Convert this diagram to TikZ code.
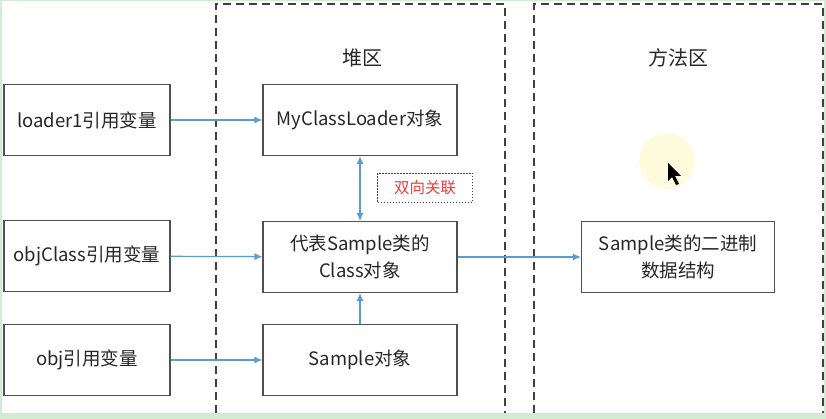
\documentclass[tikz,border=0pt]{standalone}
\usepackage{fontspec}
\setmainfont{Noto Sans CJK SC}
\usetikzlibrary{arrows.meta}

\definecolor{framegreen}{RGB}{211,235,211}
\definecolor{zonegray}{RGB}{64,64,64}
\definecolor{boxgray}{RGB}{80,80,80}
\definecolor{linkblue}{RGB}{91,155,213}
\definecolor{notered}{RGB}{240,60,60}
\definecolor{spotyellow}{RGB}{255,252,222}

\tikzset{
  zone/.style={draw=zonegray, line width=2pt, dash pattern=on 8pt off 5pt},
  membox/.style={draw=boxgray, line width=1.1pt, minimum height=71pt,
    align=center, font=\fontsize{18.5}{27}\selectfont, text=black!85},
  refbox/.style={membox, minimum width=166pt},
  objbox/.style={membox, minimum width=194pt},
  zonelabel/.style={font=\fontsize{20}{23}\selectfont, text=black!85},
  link/.style={draw=linkblue, line width=1.2pt, -{Latex[length=8pt,width=7pt]}},
}

\begin{document}
\begin{tikzpicture}[x=1pt,y=-1pt]

        \useasboundingbox (0,0) rectangle (826,419) ;
        \fill [framegreen] (0,0) rectangle (826,419) ;
        \fill [white] (2,1) rectangle (824,413) ;

        \draw [zone] (216,413) -- (216,4) -- (505,4) -- (505,413) ;
        \draw [zone] (534,413) -- (534,4) -- (823,4) -- (823,413) ;

        \node [zonelabel] (heap) at (362,58) {堆区} ;
        \node [zonelabel] (method) at (678,58) {方法区} ;

        \node [refbox] (loaderref) at (87,120) {loader1引用变量} ;
        \node [refbox] (classref) at (87,256) {objClass引用变量} ;
        \node [refbox] (objref) at (87,360) {obj引用变量} ;

        \node [objbox] (loaderobj) at (360,120) {MyClassLoader对象} ;
        \node [objbox] (classobj) at (360,257) {代表Sample类的\\Class对象} ;
        \node [objbox] (sampleobj) at (360,360) {Sample对象} ;
        \node [objbox, minimum width=193pt] (classdata) at (678,257) {Sample类的二进制\\数据结构} ;

        \node [draw=zonegray, dash pattern=on 1.5pt off 1.5pt, line width=1.5pt, minimum width=95pt, minimum height=29pt,
               text=notered, font=\fontsize{15.5}{17}\selectfont] (both) at (425,188) {双向关联} ;

        \draw [link] (loaderref) -- (loaderobj) ;
        \draw [link] (classref) -- (classobj) ;
        \draw [link] (objref) -- (sampleobj) ;
        \draw [link] (classobj) -- (classdata) ;
        \draw [link] (sampleobj) -- (classobj) ;
        \draw [link, {Latex[length=8pt,width=7pt]}-{Latex[length=8pt,width=7pt]}] (loaderobj) -- (classobj) ;

        \fill [spotyellow] (667,161) circle [radius=28] ;
        \fill [black] (668,163) -- (668,181) -- (672,177) -- (676,185) -- (679,184) -- (675,176) -- (681,176) -- cycle ;

      \end{tikzpicture}
\end{document}
